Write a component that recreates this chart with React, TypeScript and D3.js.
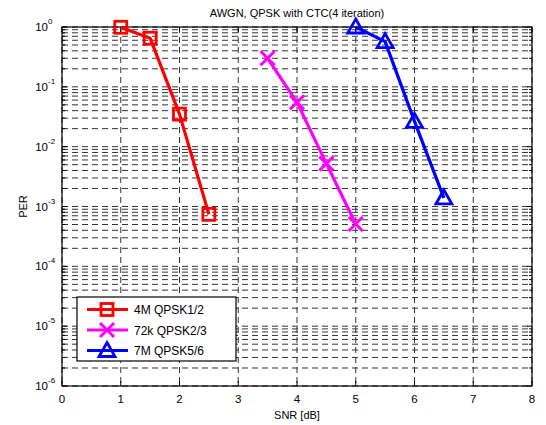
import React from "react";
import * as d3 from "d3";

const snrRed = [1, 1.5, 2, 2.5];
const perRed = [0.99, 0.65, 0.035, 0.00074];
const snrMag = [3.5, 4, 4.5, 5];
const perMag = [0.3, 0.055, 0.0052, 0.00051];
const snrBlue = [5, 5.5, 6, 6.5];
const perBlue = [1.0, 0.57, 0.0265, 0.00139];

const xTicks = [0, 1, 2, 3, 4, 5, 6, 7, 8];
const yExps = [0, -1, -2, -3, -4, -5, -6];
const legendLabels = ["4M QPSK1/2", "72k QPSK2/3", "7M QPSK5/6"];

const FONT = "Liberation Sans, Arial, sans-serif";

function Marker({ kind, x, y, color }: { kind: string; x: number; y: number; color: string }) {
  if (kind === "square") {
    return <rect x={x - 6} y={y - 6} width={12} height={12} fill="none" stroke={color} strokeWidth={2.8} />;
  }
  if (kind === "x") {
    return (
      <path
        d={`M${x - 7},${y - 7}L${x + 7},${y + 7}M${x - 7},${y + 7}L${x + 7},${y - 7}`}
        stroke={color}
        strokeWidth={3}
      />
    );
  }
  return (
    <path
      d={`M${x},${y - 8}L${x + 8},${y + 6}L${x - 8},${y + 6}Z`}
      fill="none"
      stroke={color}
      strokeWidth={2.8}
      strokeLinejoin="miter"
    />
  );
}

export default function App() {
  const width = 546;
  const height = 425;
  const left = 62;
  const right = 532;
  const top = 27;
  const bottom = 386;

  const xScale = d3.scaleLinear().domain([0, 8]).range([left, right]);
  const yScale = d3.scaleLog().domain([1e-6, 1]).range([bottom, top]);

  const minorYs: number[] = [];
  for (let e = -6; e < 0; e++) {
    for (let m = 2; m <= 9; m++) minorYs.push(m * Math.pow(10, e));
  }

  const series = [
    { x: snrRed, y: perRed, color: "#ff0000", kind: "square" },
    { x: snrMag, y: perMag, color: "#ff00ff", kind: "x" },
    { x: snrBlue, y: perBlue, color: "#0000ff", kind: "tri" },
  ];

  const line = d3
    .line<[number, number]>()
    .x((d) => xScale(d[0]))
    .y((d) => yScale(d[1]));

  const gridStyle = { stroke: "#333", strokeWidth: 1, strokeDasharray: "6,4" };

  return (
    <svg
      width={width}
      height={height}
      style={{ position: "absolute", left: 0, top: 0, background: "#fff" }}
      fontFamily={FONT}
    >
      <rect x={0} y={0} width={width} height={height} fill="#fff" />
      {/* grid */}
      {minorYs.map((v, i) => (
        <line key={"m" + i} x1={left} x2={right} y1={yScale(v)} y2={yScale(v)} {...gridStyle} />
      ))}
      {yExps.map((e) => (
        <line key={"M" + e} x1={left} x2={right} y1={yScale(Math.pow(10, e))} y2={yScale(Math.pow(10, e))} {...gridStyle} />
      ))}
      {xTicks.map((t) => (
        <line key={"v" + t} x1={xScale(t)} x2={xScale(t)} y1={top} y2={bottom} {...gridStyle} />
      ))}
      {/* ticks */}
      {xTicks.map((t) => (
        <g key={"xt" + t}>
          <line x1={xScale(t)} x2={xScale(t)} y1={bottom} y2={bottom - 5} stroke="#000" />
          <line x1={xScale(t)} x2={xScale(t)} y1={top} y2={top + 5} stroke="#000" />
          <text x={xScale(t)} y={403} textAnchor="middle" fontSize={11.5}>
            {t}
          </text>
        </g>
      ))}
      {minorYs.map((v, i) => (
        <g key={"ymt" + i}>
          <line x1={left} x2={left + 3} y1={yScale(v)} y2={yScale(v)} stroke="#000" />
          <line x1={right} x2={right - 3} y1={yScale(v)} y2={yScale(v)} stroke="#000" />
        </g>
      ))}
      {yExps.map((e) => (
        <g key={"yt" + e}>
          <line x1={left} x2={left + 5} y1={yScale(Math.pow(10, e))} y2={yScale(Math.pow(10, e))} stroke="#000" />
          <line x1={right} x2={right - 5} y1={yScale(Math.pow(10, e))} y2={yScale(Math.pow(10, e))} stroke="#000" />
          <text x={left - 14} y={yScale(Math.pow(10, e)) + 4} textAnchor="end" fontSize={11.5}>
            10
          </text>
          <text x={left - 14} y={yScale(Math.pow(10, e)) - 3} textAnchor="start" fontSize={8}>
            {e}
          </text>
        </g>
      ))}
      {/* box */}
      <rect x={left} y={top} width={right - left} height={bottom - top} fill="none" stroke="#000" strokeWidth={1.2} />
      {/* series */}
      {series.map((s, si) => {
        const pts = s.x.map((x, i) => [x, s.y[i]] as [number, number]);
        return (
          <g key={"s" + si}>
            <path d={line(pts) || ""} fill="none" stroke={s.color} strokeWidth={3.2} strokeLinejoin="round" />
            {pts.map((p, i) => (
              <Marker key={i} kind={s.kind} x={xScale(p[0])} y={yScale(p[1])} color={s.color} />
            ))}
          </g>
        );
      })}
      {/* legend */}
      <rect x={77} y={297} width={159} height={64} fill="#fff" stroke="#000" strokeWidth={1.2} />
      {series.map((s, i) => {
        const ly = 309.5 + i * 20.5;
        return (
          <g key={"l" + i}>
            <line x1={87} x2={128} y1={ly} y2={ly} stroke={s.color} strokeWidth={3.2} />
            <Marker kind={s.kind} x={107} y={ly} color={s.color} />
            <text x={134} y={ly + 4.5} fontSize={12}>
              {legendLabels[i]}
            </text>
          </g>
        );
      })}
      {/* titles */}
      <text x={(left + right) / 2} y={17} textAnchor="middle" fontSize={11}>
        AWGN, QPSK with CTC(4 iteration)
      </text>
      <text x={(left + right) / 2} y={419} textAnchor="middle" fontSize={11}>
        SNR [dB]
      </text>
      <text transform={`translate(27,${(top + bottom) / 2}) rotate(-90)`} textAnchor="middle" fontSize={11}>
        PER
      </text>
    </svg>
  );
}
